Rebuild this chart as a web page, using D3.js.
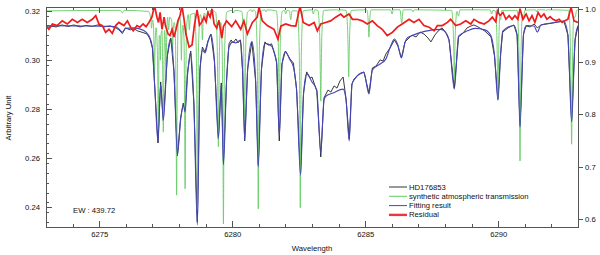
<!DOCTYPE html>
<html>
<head>
<meta charset="utf-8">
<script src="https://cdnjs.cloudflare.com/ajax/libs/d3/7.8.5/d3.min.js"></script>
<style>
body { margin: 0; background: #fff; }
svg { font-family: "Liberation Sans", Arial, sans-serif; }
.axis path { display: none; }
.axis line { stroke: #555; shape-rendering: crispEdges; }
.axis text { font-size: 7.7px; fill: #111; }
.label { font-size: 7.7px; fill: #111; }
</style>
</head>
<body>
<script>
// wavelength range and axis ranges
const waveDomain = [6273, 6293]
const fluxDomain = [0.232, 0.3215]
const transDomain = [0.5853, 1.0044]

const waveTicks = [6275, 6280, 6285, 6290]
const waveMinor = [6273, 6274, 6276, 6277, 6278, 6279, 6281, 6282, 6283, 6284, 6286, 6287, 6288, 6289, 6291, 6292, 6293]
const fluxTicks = [0.24, 0.26, 0.28, 0.30, 0.32]
const transTicks = [0.6, 0.7, 0.8, 0.9, 1.0]

const legendNames = ['HD176853', 'synthetic atmospheric transmission', 'Fitting result', 'Residual']
const ewText = 'EW : 439.72'

// HD176853 observed spectrum (left axis)
const observed = [
    [6273.00,0.3126],[6273.15,0.3138],[6273.38,0.3134],[6273.60,0.3142],[6273.83,0.3136],[6274.05,0.3142],
    [6274.28,0.3134],[6274.50,0.3140],[6274.73,0.3136],[6274.95,0.3142],[6275.18,0.3134],[6275.41,0.3138],
    [6275.63,0.3130],[6275.74,0.3122],[6275.87,0.3107],[6275.99,0.3130],[6276.16,0.3122],[6276.31,0.3126],
    [6276.46,0.3117],[6276.65,0.3111],[6276.80,0.3105],[6276.91,0.3085],[6277.00,0.3048],[6277.09,0.2885],
    [6277.21,0.2662],[6277.31,0.2910],[6277.41,0.2751],[6277.56,0.3016],[6277.69,0.3089],[6277.81,0.2951],
    [6277.94,0.2609],[6278.06,0.2763],[6278.16,0.2824],[6278.23,0.2796],[6278.32,0.2947],[6278.44,0.3036],
    [6278.56,0.2820],[6278.69,0.2340],[6278.79,0.2963],[6278.88,0.3052],[6278.98,0.3032],[6279.09,0.3077],
    [6279.20,0.3105],[6279.33,0.2995],[6279.48,0.2678],[6279.59,0.2906],[6279.67,0.2584],[6279.79,0.2922],
    [6279.88,0.3065],[6279.96,0.3081],[6280.03,0.3069],[6280.14,0.3085],[6280.22,0.3069],[6280.31,0.3081],
    [6280.39,0.2955],[6280.47,0.2670],[6280.58,0.2963],[6280.74,0.3073],[6280.88,0.2914],[6280.98,0.2572],
    [6281.10,0.2963],[6281.23,0.3073],[6281.35,0.3060],[6281.48,0.3065],[6281.59,0.3028],[6281.67,0.2987],
    [6281.77,0.2670],[6281.87,0.2983],[6282.00,0.3036],[6282.17,0.3004],[6282.30,0.2987],[6282.42,0.2881],
    [6282.57,0.2535],[6282.68,0.2865],[6282.80,0.2951],[6282.93,0.2926],[6283.00,0.2930],[6283.18,0.2873],
    [6283.33,0.2605],[6283.45,0.2845],[6283.60,0.2877],[6283.71,0.2869],[6283.83,0.2894],[6283.94,0.2885],
    [6284.05,0.2914],[6284.17,0.2930],[6284.28,0.2841],[6284.40,0.2678],[6284.50,0.2902],[6284.58,0.2922],
    [6284.73,0.2938],[6284.95,0.2951],[6285.14,0.2865],[6285.27,0.2967],[6285.41,0.2975],[6285.56,0.3000],
    [6285.67,0.2995],[6285.78,0.3024],[6285.93,0.3048],[6286.10,0.3081],[6286.23,0.3056],[6286.36,0.3008],
    [6286.50,0.3073],[6286.61,0.3085],[6286.76,0.3101],[6286.91,0.3093],[6287.06,0.3113],[6287.21,0.3105],
    [6287.36,0.3089],[6287.47,0.3073],[6287.62,0.3101],[6287.74,0.3117],[6287.89,0.3130],[6288.04,0.3109],
    [6288.15,0.3081],[6288.35,0.2885],[6288.51,0.3093],[6288.68,0.3109],[6288.83,0.3130],[6288.98,0.3138],
    [6289.09,0.3142],[6289.24,0.3134],[6289.50,0.3117],[6289.73,0.3093],[6289.86,0.3016],[6289.99,0.2841],
    [6290.09,0.3024],[6290.17,0.3113],[6290.37,0.3130],[6290.59,0.3142],[6290.71,0.3101],[6290.82,0.2731],
    [6290.95,0.3105],[6291.05,0.3138],[6291.20,0.3134],[6291.35,0.3146],[6291.47,0.3130],[6291.61,0.3142],
    [6291.83,0.3146],[6292.06,0.3150],[6292.25,0.3154],[6292.47,0.3158],[6292.62,0.3101],[6292.76,0.2751],
    [6292.89,0.3081],[6293.00,0.3138]
]

// fitting result (left axis)
const fitted = [
    [6273.00,0.3139],[6274.28,0.3138],[6275.41,0.3136],[6275.63,0.3134],[6275.74,0.3126],[6275.87,0.3113],
    [6275.99,0.3128],[6276.31,0.3130],[6276.68,0.3119],[6276.87,0.3098],[6277.00,0.3052],[6277.09,0.2889],
    [6277.21,0.2664],[6277.31,0.2902],[6277.41,0.2755],[6277.56,0.3012],[6277.69,0.3087],[6277.81,0.2955],
    [6277.94,0.2613],[6278.06,0.2755],[6278.16,0.2816],[6278.23,0.2788],[6278.32,0.2938],[6278.44,0.3032],
    [6278.56,0.2820],[6278.69,0.2328],[6278.79,0.2959],[6278.88,0.3040],[6278.98,0.3028],[6279.09,0.3073],
    [6279.20,0.3103],[6279.33,0.3000],[6279.48,0.2682],[6279.59,0.2898],[6279.67,0.2572],[6279.79,0.2918],
    [6279.88,0.3052],[6280.03,0.3073],[6280.14,0.3069],[6280.31,0.3081],[6280.39,0.2959],[6280.47,0.2674],
    [6280.58,0.2959],[6280.74,0.3074],[6280.88,0.2918],[6280.98,0.2564],[6281.10,0.2959],[6281.23,0.3067],
    [6281.48,0.3056],[6281.59,0.3024],[6281.67,0.2991],[6281.77,0.2690],[6281.87,0.2979],[6282.00,0.3033],
    [6282.17,0.3000],[6282.30,0.2971],[6282.42,0.2877],[6282.57,0.2531],[6282.68,0.2857],[6282.80,0.2943],
    [6283.00,0.2910],[6283.18,0.2877],[6283.33,0.2621],[6283.45,0.2837],[6283.53,0.2853],[6283.79,0.2865],
    [6284.17,0.2881],[6284.28,0.2837],[6284.40,0.2670],[6284.50,0.2898],[6284.58,0.2918],[6284.95,0.2949],
    [6285.14,0.2861],[6285.27,0.2959],[6285.56,0.2983],[6285.78,0.3004],[6285.93,0.3048],[6286.10,0.3085],
    [6286.23,0.3060],[6286.36,0.3008],[6286.50,0.3073],[6286.61,0.3092],[6287.85,0.3124],[6288.04,0.3109],
    [6288.15,0.3081],[6288.35,0.2881],[6288.51,0.3097],[6288.83,0.3117],[6289.13,0.3128],[6289.50,0.3122],
    [6289.73,0.3097],[6289.86,0.3020],[6289.99,0.2837],[6290.09,0.3020],[6290.17,0.3117],[6290.59,0.3140],
    [6290.71,0.3101],[6290.82,0.2726],[6290.95,0.3101],[6291.05,0.3140],[6291.35,0.3138],[6291.47,0.3113],
    [6291.61,0.3142],[6292.06,0.3151],[6292.47,0.3157],[6292.62,0.3101],[6292.76,0.2747],[6292.89,0.3081],
    [6293.00,0.3139]
]

// synthetic atmospheric transmission (right axis)
const transmission = [
    [6273.00,0.997],[6275.80,0.998],[6275.87,0.993],[6275.94,0.998],
    [6276.85,0.996],[6276.94,0.982],[6276.97,0.964],[6277.00,0.980],
    [6277.04,0.970],[6277.06,0.930],[6277.08,0.875],[6277.10,0.930],[6277.14,0.965],
    [6277.18,0.930],[6277.205,0.860],[6277.22,0.770],[6277.235,0.860],[6277.26,0.950],
    [6277.285,0.950],[6277.30,0.903],[6277.32,0.950],
    [6277.36,0.960],[6277.39,0.870],[6277.41,0.766],[6277.43,0.870],[6277.46,0.960],
    [6277.49,0.930],[6277.51,0.865],[6277.53,0.930],[6277.57,0.985],
    [6277.61,0.961],[6277.65,0.985],
    [6277.72,0.980],[6277.745,0.950],[6277.76,0.913],[6277.775,0.950],[6277.82,0.975],
    [6277.86,0.960],[6277.89,0.820],[6277.91,0.646],[6277.93,0.820],[6277.97,0.975],
    [6278.04,0.985],[6278.07,0.950],[6278.09,0.903],[6278.11,0.950],[6278.15,0.970],
    [6278.19,0.940],[6278.21,0.820],[6278.23,0.658],[6278.25,0.820],[6278.29,0.970],
    [6278.35,0.990],[6278.39,0.961],[6278.43,0.990],
    [6278.58,0.992],[6278.65,0.920],[6278.67,0.800],[6278.69,0.618],[6278.71,0.800],[6278.73,0.920],[6278.80,0.990],
    [6278.85,0.980],[6278.88,0.942],[6278.91,0.980],[6278.96,0.993],
    [6279.02,0.980],[6279.08,0.996],
    [6279.20,0.997],[6279.24,0.989],[6279.28,0.997],
    [6279.38,0.994],[6279.44,0.920],[6279.46,0.830],[6279.48,0.738],[6279.50,0.830],[6279.52,0.920],[6279.57,0.975],
    [6279.62,0.930],[6279.65,0.780],[6279.67,0.591],[6279.69,0.780],[6279.72,0.930],[6279.80,0.995],
    [6280.00,0.998],[6280.05,0.993],[6280.10,0.998],
    [6280.36,0.996],[6280.43,0.930],[6280.45,0.860],[6280.47,0.789],[6280.49,0.860],[6280.51,0.930],[6280.58,0.995],
    [6280.72,0.999],[6280.76,0.995],[6280.80,0.999],
    [6280.87,0.996],[6280.94,0.920],[6280.96,0.800],[6280.98,0.620],[6281.00,0.800],[6281.02,0.920],[6281.09,0.996],
    [6281.23,0.999],[6281.27,0.995],[6281.31,0.999],
    [6281.66,0.997],[6281.73,0.940],[6281.75,0.870],[6281.77,0.799],[6281.79,0.870],[6281.81,0.940],[6281.88,0.996],
    [6281.97,0.998],[6282.01,0.991],[6282.06,0.998],
    [6282.15,0.997],[6282.20,0.980],[6282.25,0.997],
    [6282.45,0.997],[6282.52,0.920],[6282.54,0.800],[6282.56,0.622],[6282.58,0.800],[6282.60,0.920],[6282.67,0.997],
    [6283.00,0.999],[6283.05,0.991],[6283.10,0.999],
    [6283.22,0.998],[6283.29,0.950],[6283.31,0.890],[6283.33,0.825],[6283.35,0.890],[6283.37,0.950],[6283.44,0.998],
    [6283.98,0.999],[6284.02,0.996],[6284.06,0.999],
    [6284.28,0.998],[6284.34,0.960],[6284.36,0.920],[6284.38,0.871],[6284.40,0.920],[6284.42,0.960],[6284.48,0.998],
    [6285.06,0.999],[6285.11,0.980],[6285.14,0.947],[6285.17,0.980],[6285.22,0.999],
    [6285.96,0.999],[6286.01,0.991],[6286.06,0.999],
    [6286.31,0.999],[6286.37,0.974],[6286.43,0.999],
    [6286.76,0.999],[6286.80,0.995],[6286.84,0.999],
    [6288.25,0.998],[6288.31,0.960],[6288.33,0.920],[6288.35,0.865],[6288.37,0.920],[6288.39,0.960],[6288.45,0.996],
    [6288.51,0.987],[6288.56,0.999],
    [6289.70,0.999],[6289.75,0.991],[6289.80,0.998],
    [6289.89,0.997],[6289.95,0.950],[6289.97,0.890],[6289.99,0.827],[6290.01,0.890],[6290.03,0.950],
    [6290.06,0.985],[6290.09,0.980],[6290.14,0.998],
    [6290.71,0.998],[6290.78,0.920],[6290.80,0.820],[6290.82,0.711],[6290.84,0.820],[6290.86,0.920],[6290.91,0.990],
    [6290.95,0.980],[6291.00,0.998],
    [6291.40,0.999],[6291.44,0.995],[6291.48,0.999],
    [6291.76,0.999],[6291.80,0.997],[6291.84,0.999],
    [6292.65,0.998],[6292.72,0.920],[6292.74,0.830],[6292.76,0.743],[6292.78,0.830],[6292.80,0.920],[6292.84,0.985],
    [6292.89,0.985],[6292.95,0.998],[6293.00,0.999]
]

// residual (right axis)
const residual = [
    [6273.00,0.969],[6273.11,0.962],[6273.24,0.972],[6273.42,0.969],[6273.61,0.978],[6273.80,0.972],
    [6273.99,0.981],[6274.18,0.975],[6274.36,0.981],[6274.55,0.975],[6274.74,0.981],[6274.87,0.988],
    [6274.99,0.972],[6275.12,0.969],[6275.24,0.956],[6275.37,0.962],[6275.49,0.954],[6275.62,0.969],
    [6275.74,0.975],[6275.93,0.969],[6276.06,0.978],[6276.18,0.966],[6276.28,0.959],[6276.42,0.969],
    [6276.53,0.966],[6276.65,0.972],[6276.76,0.967],[6276.87,0.975],[6276.98,0.985],[6277.08,1.007],
    [6277.17,0.985],[6277.23,0.975],[6277.29,0.994],[6277.36,0.962],[6277.44,0.985],[6277.49,0.969],
    [6277.59,0.953],[6277.66,0.950],[6277.74,0.962],[6277.81,0.947],[6277.89,0.962],[6277.96,0.978],
    [6278.04,0.988],[6278.11,1.007],[6278.19,0.981],[6278.26,0.953],[6278.38,0.928],[6278.49,0.932],
    [6278.58,0.970],[6278.68,0.999],[6278.77,0.970],[6278.86,0.976],[6278.94,0.985],[6279.02,0.976],
    [6279.09,0.994],[6279.17,0.985],[6279.24,1.001],[6279.32,0.972],[6279.42,0.964],[6279.50,0.979],
    [6279.61,0.945],[6279.67,0.967],[6279.79,0.978],[6279.98,0.967],[6280.13,0.978],[6280.32,0.962],
    [6280.44,0.978],[6280.57,0.953],[6280.76,0.975],[6280.94,0.985],[6281.01,1.004],[6281.13,0.978],
    [6281.32,0.969],[6281.57,0.962],[6281.72,0.943],[6281.83,0.968],[6282.01,0.972],[6282.20,0.969],
    [6282.39,0.968],[6282.55,1.006],[6282.67,0.975],[6282.89,0.969],[6283.08,0.975],[6283.20,0.959],
    [6283.33,0.972],[6283.51,0.975],[6283.70,0.978],[6283.89,0.985],[6284.08,0.991],[6284.20,0.985],
    [6284.39,0.991],[6284.52,0.981],[6284.70,0.981],[6284.89,0.978],[6285.08,0.972],[6285.27,0.978],
    [6285.45,0.969],[6285.64,0.962],[6285.83,0.950],[6286.02,0.956],[6286.21,0.966],[6286.39,0.972],
    [6286.65,0.981],[6286.83,0.975],[6287.02,0.981],[6287.21,0.969],[6287.40,0.966],[6287.59,0.959],
    [6287.71,0.969],[6287.90,0.969],[6288.09,0.975],[6288.21,0.981],[6288.40,0.969],[6288.59,0.972],
    [6288.78,0.978],[6288.97,0.972],[6289.09,0.981],[6289.28,0.975],[6289.47,0.972],[6289.65,0.978],
    [6289.78,0.985],[6289.91,0.976],[6289.97,0.997],[6290.07,0.988],[6290.18,0.994],[6290.29,0.981],
    [6290.41,0.988],[6290.52,0.981],[6290.63,0.988],[6290.74,0.981],[6290.82,1.001],[6290.93,0.981],
    [6291.05,0.991],[6291.16,0.978],[6291.27,0.988],[6291.38,0.975],[6291.50,0.994],[6291.61,0.985],
    [6291.72,0.991],[6291.83,0.981],[6291.95,0.986],[6292.06,0.981],[6292.17,0.978],[6292.29,0.981],
    [6292.40,0.975],[6292.51,0.978],[6292.62,0.981],[6292.74,1.004],[6292.85,0.978],[6293.00,0.975]
]

const colors = {
    observed: '#222',
    trans: '#66cc66',
    fit: '#4646b8',
    resid: '#ee1c1c'
}

let margin = { top: 7, right: 22, bottom: 28, left: 46 },
    width = 600 - margin.left - margin.right,
    height = 255 - margin.top - margin.bottom

const svg = d3.select('body').append('svg')
    .attr('width', 600)
    .attr('height', 255)
    .append('g')
    .attr('transform', `translate(${margin.left}, ${margin.top})`)

const x = d3.scaleLinear().domain(waveDomain).range([0, width])
const y = d3.scaleLinear().domain(fluxDomain).range([height, 0])
const y2 = d3.scaleLinear().domain(transDomain).range([height, 0])

svg.append('clipPath').attr('id', 'plot-clip')
    .append('rect').attr('width', width).attr('height', height)

// lines
const plot = svg.append('g').attr('clip-path', 'url(#plot-clip)')

const lineFlux = d3.line().x(d => x(d[0])).y(d => y(d[1]))
const lineFit = d3.line().x(d => x(d[0])).y(d => y(d[1])).curve(d3.curveMonotoneX)
const lineTrans = d3.line().x(d => x(d[0])).y(d => y2(d[1])).curve(d3.curveMonotoneX)
const lineResid = d3.line().x(d => x(d[0])).y(d => y2(d[1]))

plot.append('path').datum(observed)
    .attr('d', lineFlux).attr('fill', 'none')
    .attr('stroke', colors.observed).attr('stroke-width', 0.9)
plot.append('path').datum(transmission)
    .attr('d', lineTrans).attr('fill', 'none')
    .attr('stroke', colors.trans).attr('stroke-width', 0.9)
plot.append('path').datum(fitted)
    .attr('d', lineFit).attr('fill', 'none')
    .attr('stroke', colors.fit).attr('stroke-width', 1.1)
plot.append('path').datum(residual)
    .attr('d', lineResid).attr('fill', 'none')
    .attr('stroke', colors.resid).attr('stroke-width', 1.7)

// axes
const axes = svg.append('g')
axes.append('g').attr('class', 'axis')
    .attr('transform', `translate(0, ${height})`)
    .call(d3.axisBottom(x).tickValues(waveTicks).tickSize(-6).tickPadding(5).tickFormat(d3.format('d')))
axes.append('g').attr('class', 'axis')
    .attr('transform', `translate(0, ${height})`)
    .call(d3.axisBottom(x).tickValues(waveMinor).tickSize(-3).tickFormat(''))
axes.append('g').attr('class', 'axis')
    .call(d3.axisTop(x).tickValues(waveTicks).tickSize(-6).tickFormat(''))
axes.append('g').attr('class', 'axis')
    .call(d3.axisTop(x).tickValues(waveMinor).tickSize(-3).tickFormat(''))

const fluxMinor = d3.range(0.234, 0.3215, 0.004).filter(v => Math.abs(v * 50 - Math.round(v * 50)) > 0.01)
axes.append('g').attr('class', 'axis')
    .call(d3.axisLeft(y).tickValues(fluxTicks).tickSize(-6).tickPadding(6).tickFormat(d3.format('.2f')))
axes.append('g').attr('class', 'axis')
    .call(d3.axisLeft(y).tickValues(fluxMinor).tickSize(-3).tickFormat(''))

axes.append('g').attr('class', 'axis')
    .attr('transform', `translate(${width}, 0)`)
    .call(d3.axisRight(y2).tickValues(transTicks).tickSize(5).tickPadding(2).tickFormat(d3.format('.1f')))

axes.append('rect')
    .attr('width', width).attr('height', height)
    .attr('fill', 'none').attr('stroke', '#555').attr('stroke-width', 1)
    .attr('shape-rendering', 'crispEdges')

// axis titles
axes.append('text').attr('class', 'label')
    .attr('text-anchor', 'middle')
    .attr('x', width / 2).attr('y', height + 24)
    .text('Wavelength')
axes.append('text').attr('class', 'label')
    .attr('text-anchor', 'middle')
    .attr('transform', 'rotate(-90)')
    .attr('x', -111).attr('y', -35)
    .text('Arbitrary Unit')

axes.append('text').attr('class', 'label')
    .attr('x', 27).attr('y', 206)
    .text(ewText)

// legend
const legendStyle = [
    { stroke: '#999', w: 2 },
    { stroke: colors.trans, w: 1 },
    { stroke: colors.fit, w: 1 },
    { stroke: '#ee3344', w: 2.4 }
]
const legend = svg.append('g').attr('transform', 'translate(343, 180)')
legendNames.map((name, i) => {
    legend.append('line')
        .attr('x1', 0).attr('x2', 18)
        .attr('y1', i * 9.3).attr('y2', i * 9.3)
        .attr('stroke', legendStyle[i].stroke)
        .attr('stroke-width', legendStyle[i].w)
    legend.append('text').attr('class', 'label')
        .attr('x', 20).attr('y', i * 9.3).attr('dy', '0.33em')
        .text(name)
})
</script>
</body>
</html>
